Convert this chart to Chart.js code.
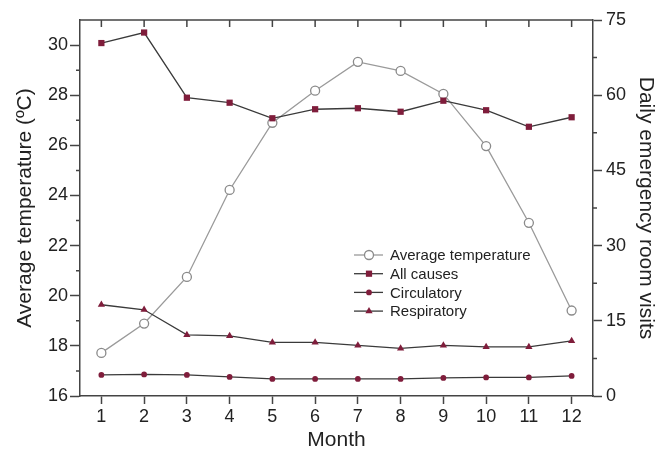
<!DOCTYPE html>
<html>
<head>
<meta charset="utf-8">
<script src="https://cdn.jsdelivr.net/npm/chart.js@4/dist/chart.umd.min.js"></script>
<style>
html,body{margin:0;padding:0;background:#fff}
#wrap{width:670px;height:452px}
</style>
</head>
<body>
<div id="wrap"><canvas id="myChart"></canvas></div>
<script>
// data
const months=[1,2,3,4,5,6,7,8,9,10,11,12];
const temperature=[17.72,18.89,20.75,24.22,26.9,28.18,29.33,28.97,28.05,25.97,22.91,19.41];
const allCauses=[70.4,72.5,59.5,58.5,55.4,57.2,57.4,56.7,58.9,57.0,53.7,55.6];
const circulatory=[4.2,4.3,4.2,3.8,3.4,3.4,3.4,3.4,3.6,3.7,3.7,4.0];
const respiratory=[18.2,17.2,12.2,12.0,10.7,10.7,10.1,9.5,10.1,9.8,9.8,11.0];
const tempTicks=[16,18,20,22,24,26,28,30];
const visitTicks=[0,15,30,45,60,75];

const maroon="#7f1d3b";
const axisCol="#444";
const font="Arial, 'Liberation Sans', Helvetica, sans-serif";

function pts(arr){ return months.map((m,i)=>({x:m,y:arr[i]})); }

// box top line, inward top ticks, minor ticks
const frame={
  id:"frame",
  afterDraw(chart){
    const c=chart.ctx, a=chart.chartArea, s=chart.scales;
    c.save();
    c.strokeStyle=axisCol; c.lineWidth=1.5;
    c.beginPath();
    c.moveTo(a.left,a.top); c.lineTo(a.right,a.top);
    months.forEach(m=>{const x=s.x.getPixelForValue(m); c.moveTo(x,a.top); c.lineTo(x,a.top+7);});
    for(let v=17;v<=29;v+=2){const y=s.y.getPixelForValue(v); c.moveTo(a.left,y); c.lineTo(a.left-4,y);}
    for(let v=7.5;v<75;v+=15){const y=s.y2.getPixelForValue(v); c.moveTo(a.right,y); c.lineTo(a.right+4,y);}
    c.stroke();
    c.restore();
  }
};

// legend inside the plot: line - marker - line, then label
const legendIn={
  id:"legendIn",
  afterDraw(chart){
    const c=chart.ctx, a=chart.chartArea;
    const x0=a.left+274, y0=a.top+235, dy=18.7;
    c.save();
    chart.data.datasets.forEach((d,i)=>{
      const y=y0+i*dy;
      c.strokeStyle=d.borderColor; c.lineWidth=1.3;
      c.beginPath(); c.moveTo(x0,y); c.lineTo(x0+29,y); c.stroke();
      const x=x0+15, r=d.pointRadius;
      c.fillStyle=d.pointBackgroundColor; c.strokeStyle=d.pointBorderColor; c.lineWidth=d.pointBorderWidth;
      c.beginPath();
      if(d.pointStyle==="rect"){const h=r/Math.SQRT2; c.rect(x-h,y-h,2*h,2*h);}
      else if(d.pointStyle==="triangle"){c.moveTo(x,y-r); c.lineTo(x+r*0.87,y+r*0.5); c.lineTo(x-r*0.87,y+r*0.5); c.closePath();}
      else c.arc(x,y,r,0,Math.PI*2);
      c.fill(); if(d.pointBorderWidth) c.stroke();
      c.fillStyle="#222"; c.font="15px "+font; c.textBaseline="middle"; c.textAlign="left";
      c.fillText(d.label,x0+36,y+1);
    });
    c.restore();
  }
};

const ctx=document.getElementById("myChart");
const chart=new Chart(ctx,{
  type:"line",
  data:{datasets:[
    {label:"Average temperature",data:pts(temperature),yAxisID:"y",borderColor:"#9a9a9a",borderWidth:1.3,
     pointStyle:"circle",pointRadius:4.5,pointBackgroundColor:"#fff",pointBorderColor:"#8a8a8a",pointBorderWidth:1.3,order:4},
    {label:"All causes",data:pts(allCauses),yAxisID:"y2",borderColor:"#3a3a3a",borderWidth:1.3,
     pointStyle:"rect",pointRadius:4.4,pointBackgroundColor:maroon,pointBorderColor:maroon,pointBorderWidth:0,order:1},
    {label:"Circulatory",data:pts(circulatory),yAxisID:"y2",borderColor:"#3a3a3a",borderWidth:1.3,
     pointStyle:"circle",pointRadius:2.9,pointBackgroundColor:maroon,pointBorderColor:maroon,pointBorderWidth:0,order:2},
    {label:"Respiratory",data:pts(respiratory),yAxisID:"y2",borderColor:"#3a3a3a",borderWidth:1.3,
     pointStyle:"triangle",pointRadius:4.2,pointBackgroundColor:maroon,pointBorderColor:maroon,pointBorderWidth:0,order:3}
  ]},
  options:{
    responsive:true,maintainAspectRatio:false,animation:false,
    layout:{padding:{top:20,left:0,right:0,bottom:0}},
    plugins:{legend:{display:false},tooltip:{enabled:false}},
    elements:{line:{tension:0}},
    scales:{
      x:{type:"linear",min:0.5,max:12.5,
        afterBuildTicks(s){s.ticks=months.map(v=>({value:v}));},
        afterFit(s){s.height=56;},
        border:{display:true,color:axisCol,width:1.5},
        grid:{display:true,drawOnChartArea:false,tickLength:8,tickWidth:1.5,tickColor:axisCol},
        ticks:{color:"#222",font:{size:18,family:font},padding:2,maxRotation:0},
        title:{display:true,text:"Month",color:"#222",font:{size:21,family:font},padding:{top:0,bottom:-1}}
      },
      y:{position:"left",min:16,max:31,
        afterBuildTicks(s){s.ticks=tempTicks.map(v=>({value:v}));},
        afterFit(s){s.width=80;},
        border:{display:true,color:axisCol,width:1.5},
        grid:{display:true,drawOnChartArea:false,tickLength:10,tickWidth:1.5,tickColor:axisCol},
        ticks:{color:"#222",font:{size:18,family:font},padding:2},
        title:{display:true,text:"Average temperature (ºC)",color:"#222",font:{size:21,family:font},padding:{top:13,bottom:0}}
      },
      y2:{position:"right",min:0,max:75,
        afterBuildTicks(s){s.ticks=visitTicks.map(v=>({value:v}));},
        afterFit(s){s.width=77;},
        border:{display:true,color:axisCol,width:1.5},
        grid:{display:true,drawOnChartArea:false,tickLength:9,tickWidth:1.5,tickColor:axisCol},
        ticks:{color:"#222",font:{size:18,family:font},padding:4},
        title:{display:true,text:"Daily emergency room visits",color:"#222",font:{size:21,family:font},padding:{top:12,bottom:0}}
      }
    }
  },
  plugins:[frame,legendIn]
});
</script>
</body>
</html>
